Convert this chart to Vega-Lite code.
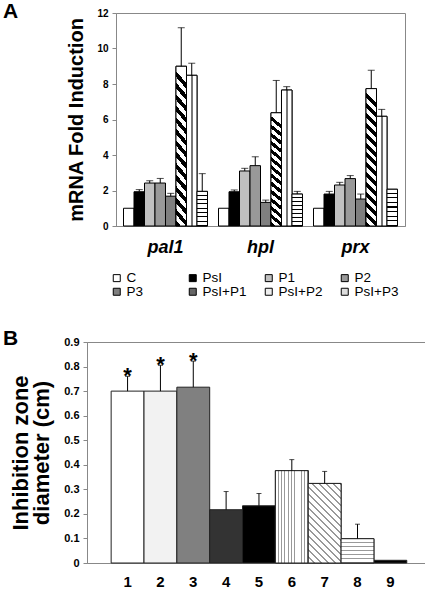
{
  "$schema": "https://vega.github.io/schema/vega-lite/v6.json",
  "padding": {"left": 2, "top": 0, "right": 0, "bottom": 0},
  "background": "white",
  "config": {
    "font": "Liberation Sans",
    "view": {"stroke": "#888888", "strokeWidth": 1},
    "axis": {"grid": false, "domainColor": "#888888", "tickColor": "#888888", "labelColor": "black", "titleColor": "black"}
  },
  "spacing": 27,
  "resolve": {"scale": {"fill": "independent", "y": "independent", "x": "independent"}, "legend": {"fill": "independent"}},
  "vconcat": [
    {
      "bounds": "flush",
      "spacing": 28,
      "resolve": {"scale": {"fill": "independent", "y": "independent", "x": "independent"}, "legend": {"fill": "independent"}},
      "hconcat": [
        {
          "width": 1,
          "height": 1,
          "view": {"stroke": null},
          "data": {"values": [{"s": ""}]},
          "mark": {"type": "text"},
          "encoding": {"text": {"field": "s"}}
        },
        {
          "width": 289,
          "height": 213,
          "title": {"text": "A", "anchor": "start", "frame": "group", "dx": -113, "offset": -14, "fontSize": 21, "fontWeight": "bold", "color": "black"},
          "data": {"values": [
            {"gene": "pal1", "treat": "C", "v": 1.0, "e": 1.0},
            {"gene": "pal1", "treat": "PsI", "v": 1.93, "e": 2.05},
            {"gene": "pal1", "treat": "P1", "v": 2.42, "e": 2.55},
            {"gene": "pal1", "treat": "P2", "v": 2.42, "e": 2.68},
            {"gene": "pal1", "treat": "P3", "v": 1.68, "e": 1.84},
            {"gene": "pal1", "treat": "PsI+P1", "v": 9.0, "e": 11.17},
            {"gene": "pal1", "treat": "PsI+P2", "v": 8.49, "e": 9.17},
            {"gene": "pal1", "treat": "PsI+P3", "v": 1.95, "e": 2.95},
            {"gene": "hpl", "treat": "C", "v": 1.0, "e": 1.0},
            {"gene": "hpl", "treat": "PsI", "v": 1.93, "e": 2.03},
            {"gene": "hpl", "treat": "P1", "v": 3.1, "e": 3.25},
            {"gene": "hpl", "treat": "P2", "v": 3.4, "e": 3.9},
            {"gene": "hpl", "treat": "P3", "v": 1.33, "e": 1.46},
            {"gene": "hpl", "treat": "PsI+P1", "v": 6.38, "e": 8.2},
            {"gene": "hpl", "treat": "PsI+P2", "v": 7.66, "e": 7.85},
            {"gene": "hpl", "treat": "PsI+P3", "v": 1.8, "e": 1.95},
            {"gene": "prx", "treat": "C", "v": 1.0, "e": 1.0},
            {"gene": "prx", "treat": "PsI", "v": 1.8, "e": 1.95},
            {"gene": "prx", "treat": "P1", "v": 2.31, "e": 2.46},
            {"gene": "prx", "treat": "P2", "v": 2.67, "e": 2.84},
            {"gene": "prx", "treat": "P3", "v": 1.52, "e": 1.8},
            {"gene": "prx", "treat": "PsI+P1", "v": 7.74, "e": 8.77},
            {"gene": "prx", "treat": "PsI+P2", "v": 6.18, "e": 6.57},
            {"gene": "prx", "treat": "PsI+P3", "v": 2.07, "e": 2.07}
          ]},
          "encoding": {
            "x": {"field": "gene", "type": "nominal", "sort": ["pal1", "hpl", "prx"],
              "scale": {"domain": ["pal1", "hpl", "prx"], "paddingInner": 0.116, "paddingOuter": 0.079},
              "axis": {"title": null, "labelAngle": 0, "labelFontSize": 18, "labelFontStyle": "italic", "labelFontWeight": "bold", "ticks": false, "labelPadding": 12}},
            "xOffset": {"field": "treat", "type": "nominal",
              "scale": {"domain": ["C", "PsI", "P1", "P2", "P3", "PsI+P1", "PsI+P2", "PsI+P3"], "paddingInner": 0, "paddingOuter": 0}}
          },
          "layer": [
            {
              "mark": {"type": "bar", "stroke": "black", "strokeWidth": 1},
              "encoding": {
                "y": {"field": "v", "type": "quantitative", "title": "mRNA Fold Induction",
                  "scale": {"domain": [0, 12]},
                  "axis": {"values": [0, 2, 4, 6, 8, 10, 12], "labelOverlap": false, "labelFontSize": 10, "labelFontWeight": "bold", "tickSize": 4, "labelPadding": 4, "titleFontSize": 20, "titleFontWeight": "bold", "titlePadding": 10}},
                "fill": {"field": "treat", "type": "nominal",
                  "scale": {"domain": ["C", "PsI", "P1", "P2", "P3", "PsI+P1", "PsI+P2", "PsI+P3"],
                    "range": ["#ffffff", "#000000", "#c0c0c0", "#999999", "#7f7f7f", "#666666", "#eeeeee", "#dddddd"]},
                  "legend": {"title": null, "orient": "none", "direction": "horizontal", "legendX": -6, "legendY": 258, "columns": 4, "symbolType": "square", "symbolSize": 49, "symbolStrokeColor": "black", "symbolStrokeWidth": 1, "symbolOpacity": 1, "labelFontSize": 13.5, "labelColor": "black", "labelOffset": 3, "columnPadding": 15, "rowPadding": -6, "gridAlign": "all", "padding": 0}}
              }
            },
            {
              "transform": [{"filter": "datum.treat == 'PsI+P1'"}],
              "mark": {"type": "bar", "stroke": "black", "strokeWidth": 1,
                "fill": {"gradient": "linear", "x1": 0, "y1": 1, "x2": 0.0766, "y2": 0, "stops": [
                  {"offset": 0, "color": "black"}, {"offset": 0.0357, "color": "black"}, {"offset": 0.0357, "color": "white"}, {"offset": 0.0714, "color": "white"},
                  {"offset": 0.0714, "color": "black"}, {"offset": 0.1071, "color": "black"}, {"offset": 0.1071, "color": "white"}, {"offset": 0.1429, "color": "white"},
                  {"offset": 0.1429, "color": "black"}, {"offset": 0.1786, "color": "black"}, {"offset": 0.1786, "color": "white"}, {"offset": 0.2143, "color": "white"},
                  {"offset": 0.2143, "color": "black"}, {"offset": 0.25, "color": "black"}, {"offset": 0.25, "color": "white"}, {"offset": 0.2857, "color": "white"},
                  {"offset": 0.2857, "color": "black"}, {"offset": 0.3214, "color": "black"}, {"offset": 0.3214, "color": "white"}, {"offset": 0.3571, "color": "white"},
                  {"offset": 0.3571, "color": "black"}, {"offset": 0.3929, "color": "black"}, {"offset": 0.3929, "color": "white"}, {"offset": 0.4286, "color": "white"},
                  {"offset": 0.4286, "color": "black"}, {"offset": 0.4643, "color": "black"}, {"offset": 0.4643, "color": "white"}, {"offset": 0.5, "color": "white"},
                  {"offset": 0.5, "color": "black"}, {"offset": 0.5357, "color": "black"}, {"offset": 0.5357, "color": "white"}, {"offset": 0.5714, "color": "white"},
                  {"offset": 0.5714, "color": "black"}, {"offset": 0.6071, "color": "black"}, {"offset": 0.6071, "color": "white"}, {"offset": 0.6429, "color": "white"},
                  {"offset": 0.6429, "color": "black"}, {"offset": 0.6786, "color": "black"}, {"offset": 0.6786, "color": "white"}, {"offset": 0.7143, "color": "white"},
                  {"offset": 0.7143, "color": "black"}, {"offset": 0.75, "color": "black"}, {"offset": 0.75, "color": "white"}, {"offset": 0.7857, "color": "white"},
                  {"offset": 0.7857, "color": "black"}, {"offset": 0.8214, "color": "black"}, {"offset": 0.8214, "color": "white"}, {"offset": 0.8571, "color": "white"},
                  {"offset": 0.8571, "color": "black"}, {"offset": 0.8929, "color": "black"}, {"offset": 0.8929, "color": "white"}, {"offset": 0.9286, "color": "white"},
                  {"offset": 0.9286, "color": "black"}, {"offset": 0.9643, "color": "black"}, {"offset": 0.9643, "color": "white"}, {"offset": 1, "color": "white"}
                ]}},
              "encoding": {
                "y": {"field": "v", "type": "quantitative", "title": "mRNA Fold Induction",
                  "axis": {"values": [0, 2, 4, 6, 8, 10, 12], "labelOverlap": false, "labelFontSize": 10, "labelFontWeight": "bold", "tickSize": 4, "labelPadding": 4, "titleFontSize": 20, "titleFontWeight": "bold", "titlePadding": 10}}
              }
            },
            {
              "transform": [{"filter": "datum.treat == 'PsI+P2'"}],
              "mark": {"type": "bar", "stroke": "black", "strokeWidth": 1,
                "fill": {"gradient": "linear", "x1": 0, "y1": 0, "x2": 1, "y2": 0, "stops": [
                  {"offset": 0, "color": "white"}, {"offset": 0.4, "color": "white"}, {"offset": 0.4, "color": "#777777"}, {"offset": 0.6, "color": "#777777"}, {"offset": 0.6, "color": "white"}, {"offset": 1, "color": "white"}
                ]}},
              "encoding": {
                "y": {"field": "v", "type": "quantitative", "title": "mRNA Fold Induction",
                  "axis": {"values": [0, 2, 4, 6, 8, 10, 12], "labelOverlap": false, "labelFontSize": 10, "labelFontWeight": "bold", "tickSize": 4, "labelPadding": 4, "titleFontSize": 20, "titleFontWeight": "bold", "titlePadding": 10}}
              }
            },
            {
              "transform": [{"filter": "datum.treat == 'PsI+P3'"}],
              "mark": {"type": "bar", "stroke": "black", "strokeWidth": 1,
                "fill": {"gradient": "linear", "x1": 0, "y1": 0, "x2": 0.0001, "y2": 1, "stops": [
                  {"offset": 0, "color": "white"}, {"offset": 0.094, "color": "white"}, {"offset": 0.094, "color": "black"}, {"offset": 0.125, "color": "black"}, {"offset": 0.125, "color": "white"},
                  {"offset": 0.219, "color": "white"}, {"offset": 0.219, "color": "black"}, {"offset": 0.25, "color": "black"}, {"offset": 0.25, "color": "white"},
                  {"offset": 0.344, "color": "white"}, {"offset": 0.344, "color": "black"}, {"offset": 0.375, "color": "black"}, {"offset": 0.375, "color": "white"},
                  {"offset": 0.469, "color": "white"}, {"offset": 0.469, "color": "black"}, {"offset": 0.5, "color": "black"}, {"offset": 0.5, "color": "white"},
                  {"offset": 0.594, "color": "white"}, {"offset": 0.594, "color": "black"}, {"offset": 0.625, "color": "black"}, {"offset": 0.625, "color": "white"},
                  {"offset": 0.719, "color": "white"}, {"offset": 0.719, "color": "black"}, {"offset": 0.75, "color": "black"}, {"offset": 0.75, "color": "white"},
                  {"offset": 0.844, "color": "white"}, {"offset": 0.844, "color": "black"}, {"offset": 0.875, "color": "black"}, {"offset": 0.875, "color": "white"},
                  {"offset": 0.969, "color": "white"}, {"offset": 0.969, "color": "black"}, {"offset": 1, "color": "black"}
                ]}},
              "encoding": {
                "y": {"field": "v", "type": "quantitative", "title": "mRNA Fold Induction",
                  "axis": {"values": [0, 2, 4, 6, 8, 10, 12], "labelOverlap": false, "labelFontSize": 10, "labelFontWeight": "bold", "tickSize": 4, "labelPadding": 4, "titleFontSize": 20, "titleFontWeight": "bold", "titlePadding": 10}}
              }
            },
            {
              "transform": [{"filter": "datum.e > datum.v"}],
              "mark": {"type": "rule", "color": "black", "strokeWidth": 1},
              "encoding": {
                "y": {"field": "v", "type": "quantitative", "title": "mRNA Fold Induction",
                  "axis": {"values": [0, 2, 4, 6, 8, 10, 12], "labelOverlap": false, "labelFontSize": 10, "labelFontWeight": "bold", "tickSize": 4, "labelPadding": 4, "titleFontSize": 20, "titleFontWeight": "bold", "titlePadding": 10}},
                "y2": {"field": "e"}
              }
            },
            {
              "transform": [{"filter": "datum.e > datum.v"}],
              "mark": {"type": "tick", "color": "black", "thickness": 1, "size": 7},
              "encoding": {
                "y": {"field": "e", "type": "quantitative", "title": "mRNA Fold Induction",
                  "axis": {"values": [0, 2, 4, 6, 8, 10, 12], "labelOverlap": false, "labelFontSize": 10, "labelFontWeight": "bold", "tickSize": 4, "labelPadding": 4, "titleFontSize": 20, "titleFontWeight": "bold", "titlePadding": 10}}
              }
            }
          ]
        }
      ]
    },
    {
      "width": 338,
      "height": 221,
      "title": {"text": "B", "anchor": "start", "frame": "group", "dx": -84, "offset": -13, "fontSize": 21, "fontWeight": "bold", "color": "black"},
      "data": {"values": [
        {"n": "1", "v": 0.70, "e": 0.76, "sig": "*"},
        {"n": "2", "v": 0.70, "e": 0.805, "sig": "*"},
        {"n": "3", "v": 0.716, "e": 0.822, "sig": "*"},
        {"n": "4", "v": 0.217, "e": 0.291, "sig": ""},
        {"n": "5", "v": 0.233, "e": 0.283, "sig": ""},
        {"n": "6", "v": 0.376, "e": 0.421, "sig": ""},
        {"n": "7", "v": 0.324, "e": 0.373, "sig": ""},
        {"n": "8", "v": 0.099, "e": 0.158, "sig": ""},
        {"n": "9", "v": 0.011, "e": 0.011, "sig": ""}
      ]},
      "encoding": {
        "x": {"field": "n", "type": "ordinal",
          "scale": {"domain": ["1", "2", "3", "4", "5", "6", "7", "8", "9"], "paddingInner": 0, "paddingOuter": 0.645, "align": 0.57},
          "axis": {"title": null, "labelAngle": 0, "labelFontSize": 15, "labelFontWeight": "bold", "ticks": false, "labelPadding": 11}}
      },
      "layer": [
        {
          "mark": {"type": "bar", "stroke": "#222222", "strokeWidth": 1},
          "encoding": {
            "y": {"field": "v", "type": "quantitative", "title": ["Inhibition zone", "diameter (cm)"],
              "scale": {"domain": [0, 0.9]},
              "axis": {"values": [0, 0.1, 0.2, 0.3, 0.4, 0.5, 0.6, 0.7, 0.8, 0.9], "labelOverlap": false, "format": ".1~f", "labelFontSize": 11, "labelFontWeight": "bold", "tickSize": 4, "labelPadding": 4, "titleFontSize": 22, "titleFontWeight": "bold", "titleLineHeight": 21, "titlePadding": 10}},
            "fill": {"field": "n", "type": "ordinal", "legend": null,
              "scale": {"domain": ["1", "2", "3", "4", "5", "6", "7", "8", "9"],
                "range": ["#ffffff", "#f2f2f2", "#808080", "#333333", "#000000", "#dddddd", "#dddddd", "#dddddd", "#000000"]}}
          }
        },
        {
          "transform": [{"filter": "datum.n == '6'"}],
          "mark": {"type": "bar", "stroke": "#222222", "strokeWidth": 1,
            "fill": {"gradient": "linear", "x1": 0, "y1": 0, "x2": 1, "y2": 0, "stops": [
              {"offset": 0, "color": "white"}, {"offset": 0.075, "color": "white"}, {"offset": 0.075, "color": "#999999"}, {"offset": 0.1, "color": "#999999"}, {"offset": 0.1, "color": "white"},
              {"offset": 0.175, "color": "white"}, {"offset": 0.175, "color": "#999999"}, {"offset": 0.2, "color": "#999999"}, {"offset": 0.2, "color": "white"},
              {"offset": 0.275, "color": "white"}, {"offset": 0.275, "color": "#999999"}, {"offset": 0.3, "color": "#999999"}, {"offset": 0.3, "color": "white"},
              {"offset": 0.375, "color": "white"}, {"offset": 0.375, "color": "#999999"}, {"offset": 0.4, "color": "#999999"}, {"offset": 0.4, "color": "white"},
              {"offset": 0.475, "color": "white"}, {"offset": 0.475, "color": "#999999"}, {"offset": 0.5, "color": "#999999"}, {"offset": 0.5, "color": "white"},
              {"offset": 0.575, "color": "white"}, {"offset": 0.575, "color": "#999999"}, {"offset": 0.6, "color": "#999999"}, {"offset": 0.6, "color": "white"},
              {"offset": 0.675, "color": "white"}, {"offset": 0.675, "color": "#999999"}, {"offset": 0.7, "color": "#999999"}, {"offset": 0.7, "color": "white"},
              {"offset": 0.775, "color": "white"}, {"offset": 0.775, "color": "#999999"}, {"offset": 0.8, "color": "#999999"}, {"offset": 0.8, "color": "white"},
              {"offset": 0.875, "color": "white"}, {"offset": 0.875, "color": "#999999"}, {"offset": 0.9, "color": "#999999"}, {"offset": 0.9, "color": "white"},
              {"offset": 0.975, "color": "white"}, {"offset": 0.975, "color": "#999999"}, {"offset": 1, "color": "#999999"}
            ]}},
          "encoding": {
            "y": {"field": "v", "type": "quantitative", "title": ["Inhibition zone", "diameter (cm)"],
              "axis": {"values": [0, 0.1, 0.2, 0.3, 0.4, 0.5, 0.6, 0.7, 0.8, 0.9], "labelOverlap": false, "format": ".1~f", "labelFontSize": 11, "labelFontWeight": "bold", "tickSize": 4, "labelPadding": 4, "titleFontSize": 22, "titleFontWeight": "bold", "titleLineHeight": 21, "titlePadding": 10}}
          }
        },
        {
          "transform": [{"filter": "datum.n == '7'"}],
          "mark": {"type": "bar", "stroke": "#222222", "strokeWidth": 1,
            "fill": {"gradient": "linear", "x1": 0, "y1": 1, "x2": 0.4957, "y2": -0.207, "stops": [
              {"offset": 0, "color": "white"}, {"offset": 0.0438, "color": "white"}, {"offset": 0.0438, "color": "#999999"}, {"offset": 0.0625, "color": "#999999"}, {"offset": 0.0625, "color": "white"},
              {"offset": 0.1063, "color": "white"}, {"offset": 0.1063, "color": "#999999"}, {"offset": 0.125, "color": "#999999"}, {"offset": 0.125, "color": "white"},
              {"offset": 0.1688, "color": "white"}, {"offset": 0.1688, "color": "#999999"}, {"offset": 0.1875, "color": "#999999"}, {"offset": 0.1875, "color": "white"},
              {"offset": 0.2313, "color": "white"}, {"offset": 0.2313, "color": "#999999"}, {"offset": 0.25, "color": "#999999"}, {"offset": 0.25, "color": "white"},
              {"offset": 0.2938, "color": "white"}, {"offset": 0.2938, "color": "#999999"}, {"offset": 0.3125, "color": "#999999"}, {"offset": 0.3125, "color": "white"},
              {"offset": 0.3563, "color": "white"}, {"offset": 0.3563, "color": "#999999"}, {"offset": 0.375, "color": "#999999"}, {"offset": 0.375, "color": "white"},
              {"offset": 0.4188, "color": "white"}, {"offset": 0.4188, "color": "#999999"}, {"offset": 0.4375, "color": "#999999"}, {"offset": 0.4375, "color": "white"},
              {"offset": 0.4813, "color": "white"}, {"offset": 0.4813, "color": "#999999"}, {"offset": 0.5, "color": "#999999"}, {"offset": 0.5, "color": "white"},
              {"offset": 0.5438, "color": "white"}, {"offset": 0.5438, "color": "#999999"}, {"offset": 0.5625, "color": "#999999"}, {"offset": 0.5625, "color": "white"},
              {"offset": 0.6063, "color": "white"}, {"offset": 0.6063, "color": "#999999"}, {"offset": 0.625, "color": "#999999"}, {"offset": 0.625, "color": "white"},
              {"offset": 0.6688, "color": "white"}, {"offset": 0.6688, "color": "#999999"}, {"offset": 0.6875, "color": "#999999"}, {"offset": 0.6875, "color": "white"},
              {"offset": 0.7313, "color": "white"}, {"offset": 0.7313, "color": "#999999"}, {"offset": 0.75, "color": "#999999"}, {"offset": 0.75, "color": "white"},
              {"offset": 0.7938, "color": "white"}, {"offset": 0.7938, "color": "#999999"}, {"offset": 0.8125, "color": "#999999"}, {"offset": 0.8125, "color": "white"},
              {"offset": 0.8563, "color": "white"}, {"offset": 0.8563, "color": "#999999"}, {"offset": 0.875, "color": "#999999"}, {"offset": 0.875, "color": "white"},
              {"offset": 0.9188, "color": "white"}, {"offset": 0.9188, "color": "#999999"}, {"offset": 0.9375, "color": "#999999"}, {"offset": 0.9375, "color": "white"},
              {"offset": 0.9813, "color": "white"}, {"offset": 0.9813, "color": "#999999"}, {"offset": 1, "color": "#999999"}
            ]}},
          "encoding": {
            "y": {"field": "v", "type": "quantitative", "title": ["Inhibition zone", "diameter (cm)"],
              "axis": {"values": [0, 0.1, 0.2, 0.3, 0.4, 0.5, 0.6, 0.7, 0.8, 0.9], "labelOverlap": false, "format": ".1~f", "labelFontSize": 11, "labelFontWeight": "bold", "tickSize": 4, "labelPadding": 4, "titleFontSize": 22, "titleFontWeight": "bold", "titleLineHeight": 21, "titlePadding": 10}}
          }
        },
        {
          "transform": [{"filter": "datum.n == '8'"}],
          "mark": {"type": "bar", "stroke": "#222222", "strokeWidth": 1,
            "fill": {"gradient": "linear", "x1": 0, "y1": 0, "x2": 0.0001, "y2": 1, "stops": [
              {"offset": 0, "color": "white"}, {"offset": 0.125, "color": "white"}, {"offset": 0.125, "color": "#999999"}, {"offset": 0.1667, "color": "#999999"}, {"offset": 0.1667, "color": "white"},
              {"offset": 0.2917, "color": "white"}, {"offset": 0.2917, "color": "#999999"}, {"offset": 0.3333, "color": "#999999"}, {"offset": 0.3333, "color": "white"},
              {"offset": 0.4583, "color": "white"}, {"offset": 0.4583, "color": "#999999"}, {"offset": 0.5, "color": "#999999"}, {"offset": 0.5, "color": "white"},
              {"offset": 0.625, "color": "white"}, {"offset": 0.625, "color": "#999999"}, {"offset": 0.6667, "color": "#999999"}, {"offset": 0.6667, "color": "white"},
              {"offset": 0.7917, "color": "white"}, {"offset": 0.7917, "color": "#999999"}, {"offset": 0.8333, "color": "#999999"}, {"offset": 0.8333, "color": "white"},
              {"offset": 0.9583, "color": "white"}, {"offset": 0.9583, "color": "#999999"}, {"offset": 1, "color": "#999999"}
            ]}},
          "encoding": {
            "y": {"field": "v", "type": "quantitative", "title": ["Inhibition zone", "diameter (cm)"],
              "axis": {"values": [0, 0.1, 0.2, 0.3, 0.4, 0.5, 0.6, 0.7, 0.8, 0.9], "labelOverlap": false, "format": ".1~f", "labelFontSize": 11, "labelFontWeight": "bold", "tickSize": 4, "labelPadding": 4, "titleFontSize": 22, "titleFontWeight": "bold", "titleLineHeight": 21, "titlePadding": 10}}
          }
        },
        {
          "transform": [{"filter": "datum.e > datum.v"}],
          "mark": {"type": "rule", "color": "black", "strokeWidth": 1},
          "encoding": {
            "y": {"field": "v", "type": "quantitative", "title": ["Inhibition zone", "diameter (cm)"],
              "axis": {"values": [0, 0.1, 0.2, 0.3, 0.4, 0.5, 0.6, 0.7, 0.8, 0.9], "labelOverlap": false, "format": ".1~f", "labelFontSize": 11, "labelFontWeight": "bold", "tickSize": 4, "labelPadding": 4, "titleFontSize": 22, "titleFontWeight": "bold", "titleLineHeight": 21, "titlePadding": 10}},
            "y2": {"field": "e"}
          }
        },
        {
          "transform": [{"filter": "datum.e > datum.v"}],
          "mark": {"type": "tick", "color": "black", "thickness": 1, "size": 5},
          "encoding": {
            "y": {"field": "e", "type": "quantitative", "title": ["Inhibition zone", "diameter (cm)"],
              "axis": {"values": [0, 0.1, 0.2, 0.3, 0.4, 0.5, 0.6, 0.7, 0.8, 0.9], "labelOverlap": false, "format": ".1~f", "labelFontSize": 11, "labelFontWeight": "bold", "tickSize": 4, "labelPadding": 4, "titleFontSize": 22, "titleFontWeight": "bold", "titleLineHeight": 21, "titlePadding": 10}}
          }
        },
        {
          "mark": {"type": "text", "fontSize": 22, "fontWeight": "bold", "baseline": "alphabetic", "dy": 6.5, "color": "black"},
          "encoding": {
            "y": {"field": "e", "type": "quantitative", "title": ["Inhibition zone", "diameter (cm)"],
              "axis": {"values": [0, 0.1, 0.2, 0.3, 0.4, 0.5, 0.6, 0.7, 0.8, 0.9], "labelOverlap": false, "format": ".1~f", "labelFontSize": 11, "labelFontWeight": "bold", "tickSize": 4, "labelPadding": 4, "titleFontSize": 22, "titleFontWeight": "bold", "titleLineHeight": 21, "titlePadding": 10}},
            "text": {"field": "sig"}
          }
        }
      ]
    }
  ]
}
